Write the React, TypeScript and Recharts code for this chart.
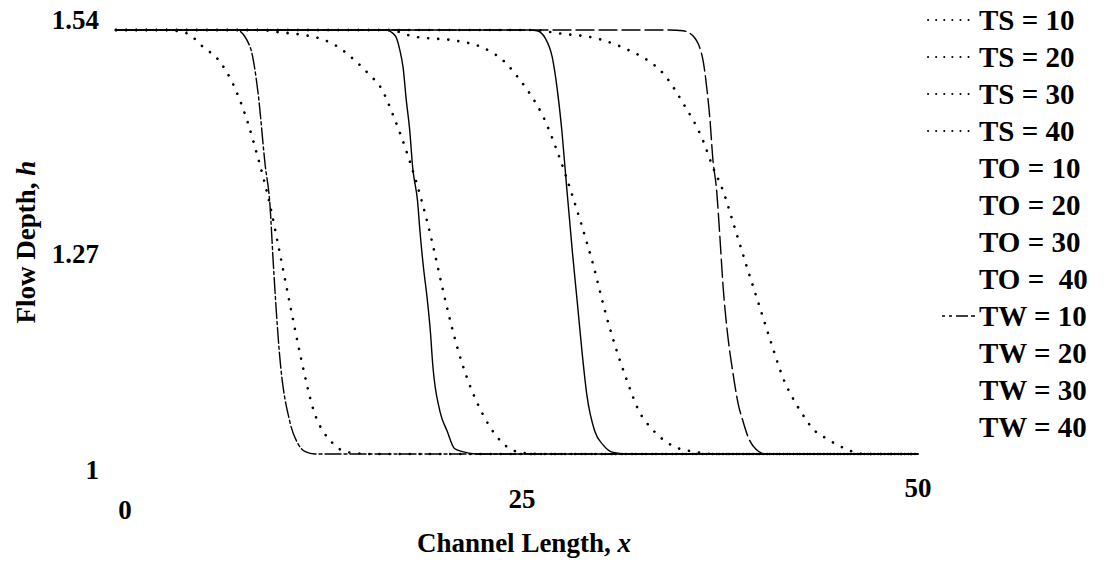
import { Legend, Line, LineChart, XAxis, YAxis } from "recharts";

type Pair = [number, number];

const X_TICKS = [0, 25, 50];
const Y_TICKS = [1, 1.27, 1.54];

// flow depth h against channel length x
const TS_10: Pair[] = [
  [0, 1.54], [3, 1.54], [4.4, 1.536], [5.4, 1.519], [6.5, 1.499], [7.3, 1.471], [8.2, 1.423],
  [8.8, 1.381], [9.6, 1.317], [10.2, 1.257], [10.9, 1.185], [11.5, 1.125], [12.3, 1.057],
  [13.5, 1.014], [14.5, 1.002], [16, 1.0], [50, 1.0],
];
const TS_20: Pair[] = [
  [0, 1.54], [9, 1.54], [10.2, 1.537], [11.9, 1.533], [12.9, 1.528], [13.8, 1.519], [14.8, 1.503],
  [15.8, 1.483], [16.5, 1.467], [17.4, 1.425], [18.1, 1.386], [19.3, 1.304], [19.8, 1.262],
  [20.4, 1.207], [21.3, 1.134], [21.9, 1.096], [22.5, 1.066], [23.3, 1.035], [24.1, 1.014],
  [25.2, 1.002], [26.5, 1.0], [50, 1.0],
];
const TS_30: Pair[] = [
  [0, 1.54], [17, 1.54], [18.5, 1.532], [21.3, 1.526], [22.7, 1.519], [24.3, 1.498], [25.2, 1.476],
  [25.8, 1.459], [26.6, 1.431], [27.5, 1.386], [28.5, 1.326], [29.05, 1.29], [29.75, 1.241],
  [30.5, 1.181], [31.1, 1.139], [31.9, 1.091], [32.55, 1.057], [33.5, 1.03], [34.65, 1.011],
  [36, 1.003], [37.5, 1.0], [50, 1.0],
];
const TS_40: Pair[] = [
  [0, 1.54], [26, 1.54], [27.5, 1.536], [30.2, 1.528], [32, 1.514], [33.1, 1.502], [34.1, 1.485],
  [35.35, 1.447], [36.6, 1.399], [37.2, 1.366], [37.85, 1.335], [38.5, 1.293], [39.35, 1.237],
  [40.15, 1.186], [40.95, 1.135], [41.6, 1.096], [42.2, 1.071], [42.85, 1.049], [43.45, 1.032],
  [44.35, 1.019], [45.55, 1.006], [46.6, 1.0], [50, 1.0],
];
const TW_10: Pair[] = [
  [0, 1.54], [7.5, 1.54], [8.35, 1.519], [8.85, 1.461], [9.3, 1.368], [9.6, 1.317], [9.8, 1.245],
  [10.2, 1.126], [10.85, 1.04], [11.35, 1.013], [11.8, 1.003], [12.4, 1.0], [50, 1.0],
];
const TW_20: Pair[] = [
  [0, 1.54], [16.8, 1.54], [17.4, 1.533], [17.7, 1.514], [17.9, 1.492], [18.1, 1.45], [18.3, 1.415],
  [18.5, 1.364], [18.8, 1.322], [18.95, 1.284], [19.15, 1.241], [19.4, 1.198], [19.6, 1.156],
  [19.75, 1.113], [20.2, 1.054], [20.65, 1.029], [21.1, 1.007], [21.6, 1.003], [22.5, 1.0], [50, 1.0],
];
const TW_30: Pair[] = [
  [0, 1.54], [25.8, 1.54], [26.25, 1.539], [26.75, 1.53], [27.2, 1.505], [27.5, 1.466], [27.8, 1.411],
  [28.05, 1.351], [28.45, 1.258], [28.75, 1.195], [29.05, 1.131], [29.35, 1.076], [29.85, 1.029],
  [30.35, 1.012], [31, 1.002], [32, 1.0], [50, 1.0],
];
const TW_40: Pair[] = [
  [0, 1.54], [34.5, 1.54], [35.35, 1.539], [35.95, 1.533], [36.55, 1.506], [36.85, 1.463],
  [37.05, 1.421], [37.2, 1.378], [37.45, 1.335], [37.65, 1.276], [37.85, 1.213], [38.15, 1.149],
  [38.45, 1.105], [38.8, 1.063], [39.1, 1.041], [39.4, 1.022], [39.9, 1.006], [40.5, 1.0], [50, 1.0],
];

const LEGEND_LABELS = [
  "TS = 10", "TS = 20", "TS = 30", "TS = 40",
  "TO = 10", "TO = 20", "TO = 30", "TO =  40",
  "TW = 10", "TW = 20", "TW = 30", "TW = 40",
];

const FONT = {
  fontFamily: '"Liberation Serif", "Times New Roman", serif',
  fontWeight: 700,
  fontSize: 27,
  fill: "#000",
};
const LEGEND_FONT = { ...FONT, fontSize: 29, whiteSpace: "pre" as const };

const DOTS = "0.1 10";

const SERIES = [
  { name: "TS = 10", data: TS_10, dash: DOTS, width: 2.6 },
  { name: "TS = 20", data: TS_20, dash: DOTS, width: 2.6 },
  { name: "TS = 30", data: TS_30, dash: DOTS, width: 2.6 },
  { name: "TS = 40", data: TS_40, dash: DOTS, width: 2.6 },
  { name: "TW = 10", data: TW_10, dash: "16 3 3 3", width: 1.4 },
  { name: "TW = 20", data: TW_20, dash: undefined, width: 1.4 },
  { name: "TW = 30", data: TW_30, dash: undefined, width: 1.4 },
  { name: "TW = 40", data: TW_40, dash: "18 5", width: 1.4 },
];

// small offsets so the scanned tick labels sit where they do in the figure
const X_TICK_SHIFT: Record<string, [number, number]> = { "0": [9, 48], "25": [5, 37], "50": [0, 26] };
const Y_TICK_SHIFT: Record<string, number> = { "1": 16, "1.27": 12, "1.54": -10 };

const toPoints = (pairs: Pair[]) => pairs.map(([x, h]) => ({ x, h }));

function XTick({ x, y, payload }: any) {
  const [dx, dy] = X_TICK_SHIFT[String(payload.value)] ?? [0, 30];
  return (
    <text x={x + dx} y={y + dy} textAnchor="middle" dominantBaseline="central" style={FONT}>
      {payload.value}
    </text>
  );
}

function YTick({ x, y, payload }: any) {
  return (
    <text
      x={x - 9}
      y={y + (Y_TICK_SHIFT[String(payload.value)] ?? 0)}
      textAnchor="end"
      dominantBaseline="central"
      style={FONT}
    >
      {payload.value}
    </text>
  );
}

function XTitle({ viewBox }: any) {
  const vb = viewBox ?? { x: 116, y: 454, width: 802 };
  return (
    <text x={vb.x + vb.width / 2 + 7} y={vb.y + 98} textAnchor="middle" style={FONT}>
      Channel Length, <tspan fontStyle="italic">x</tspan>
    </text>
  );
}

function YTitle({ viewBox }: any) {
  const vb = viewBox ?? { x: 0, y: 30, height: 424 };
  const cx = vb.x + 26;
  const cy = vb.y + vb.height / 2;
  return (
    <text
      x={cx}
      y={cy}
      transform={`rotate(-90, ${cx}, ${cy})`}
      textAnchor="middle"
      dominantBaseline="central"
      style={FONT}
    >
      Flow Depth, <tspan fontStyle="italic">h</tspan>
    </text>
  );
}

function LegendBox() {
  return (
    <svg width={181} height={450} style={{ display: "block" }}>
      {LEGEND_LABELS.map((label, i) => {
        const cy = 20 + i * 37;
        const isTS = label.startsWith("TS");
        const isTW10 = label === "TW = 10";
        return (
          <g key={label}>
            {isTS && (
              <line x1={3} x2={50} y1={cy} y2={cy} stroke="#000" strokeWidth={2} strokeDasharray="0.1 8" strokeLinecap="round" />
            )}
            {isTW10 && (
              <line x1={17} x2={50} y1={cy} y2={cy} stroke="#000" strokeWidth={1.3} strokeDasharray="3 4 3 4 12" />
            )}
            <text x={54} y={cy} dominantBaseline="central" style={LEGEND_FONT}>
              {label}
            </text>
          </g>
        );
      })}
    </svg>
  );
}

export default function App() {
  return (
    <div style={{ position: "absolute", left: 0, top: 0, width: 1106, height: 563, background: "#fff" }}>
      <LineChart width={1106} height={563} margin={{ top: 30, right: 188, bottom: 29, left: 0 }}>
        <XAxis
          type="number"
          dataKey="x"
          domain={[0, 50]}
          ticks={X_TICKS}
          axisLine={false}
          tickLine={false}
          height={80}
          tick={<XTick />}
          label={{ content: <XTitle /> }}
        />
        <YAxis
          type="number"
          domain={[1, 1.54]}
          ticks={Y_TICKS}
          axisLine={false}
          tickLine={false}
          width={116}
          tick={<YTick />}
          label={{ content: <YTitle /> }}
        />
        {SERIES.map((s) => (
          <Line
            key={s.name}
            name={s.name}
            data={toPoints(s.data)}
            dataKey="h"
            type="monotone"
            stroke="#000"
            strokeWidth={s.width}
            strokeDasharray={s.dash}
            strokeLinecap="round"
            dot={false}
            activeDot={false}
            legendType="none"
            isAnimationActive={false}
          />
        ))}
        <Legend
          layout="vertical"
          align="center"
          verticalAlign="middle"
          content={() => <LegendBox />}
          wrapperStyle={{ left: 925, top: 0, width: 181, height: 450 }}
        />
      </LineChart>
    </div>
  );
}
